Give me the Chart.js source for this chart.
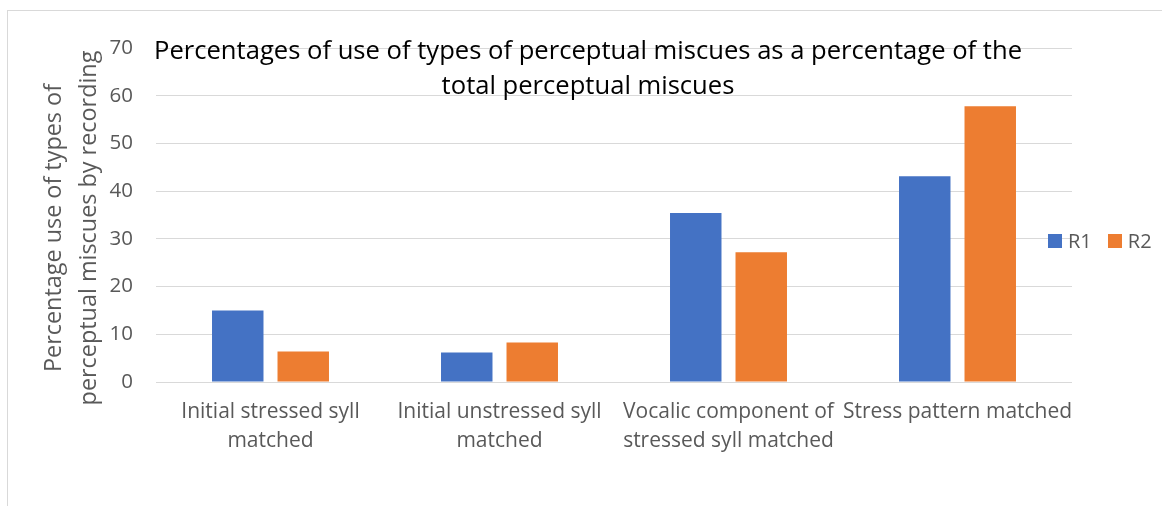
<!DOCTYPE html>
<html>
<head>
<meta charset="utf-8">
<script src="https://cdn.jsdelivr.net/npm/chart.js@4.4.1/dist/chart.umd.min.js"></script>
<style>
  html, body { margin: 0; padding: 0; background: #fff; }
  #wrap { position: relative; width: 1162px; height: 506px; overflow: hidden; font-family: "Open Sans", sans-serif; }
  #frame { position: absolute; left: 7px; top: 10px; width: 1200px; height: 600px; border: 1px solid #d9d9d9; box-sizing: border-box; }
  canvas { position: absolute; left: 0; top: 0; }
  #title { position: absolute; left: 88px; width: 1000px; top: 32px; text-align: center; font-size: 25.6px; line-height: 35px; color: #000; pointer-events: none; white-space: nowrap; }
  #ytitle { position: absolute; left: -130px; top: 193px; width: 400px; height: 70px; transform: rotate(-90deg); text-align: center; font-size: 23.4px; line-height: 35px; color: #595959; white-space: nowrap; }
  #legend { position: absolute; left: 1048px; top: 227px; font-size: 20px; color: #595959; display: flex; align-items: center; }
  #legend .item { display: flex; align-items: center; margin-right: 16px; }
  #legend .sw { width: 14px; height: 14px; margin-right: 6px; }
</style>
</head>
<body>
<div id="wrap">
  <div id="frame"></div>
  <canvas id="c" width="1162" height="506"></canvas>
  <div id="title"></div>
  <div id="ytitle"></div>
  <div id="legend"></div>
</div>
<script>
const chartTitle = ["Percentages of use of types of perceptual miscues as a percentage of the", "total perceptual miscues"];
const yAxisTitle = ["Percentage use of types of", "perceptual miscues by recording"];
const categories = [
  ["Initial stressed syll", "matched"],
  ["Initial unstressed syll", "matched"],
  ["Vocalic component of", "stressed syll matched"],
  ["Stress pattern matched"]
];
const seriesNames = ["R1", "R2"];
const r1Values = [15.0, 6.2, 35.4, 43.1];
const r2Values = [6.4, 8.3, 27.2, 57.8];
const seriesColors = ["#4472C4", "#ED7D31"];
const yTicks = [0, 10, 20, 30, 40, 50, 60, 70];

document.getElementById('title').innerHTML = chartTitle.join('<br>');
document.getElementById('ytitle').innerHTML = yAxisTitle.join('<br>');
const legendEl = document.getElementById('legend');
seriesNames.forEach((n, i) => {
  const it = document.createElement('div');
  it.className = 'item';
  const sw = document.createElement('div');
  sw.className = 'sw';
  sw.style.background = seriesColors[i];
  const tx = document.createElement('span');
  tx.textContent = n;
  it.appendChild(sw); it.appendChild(tx);
  legendEl.appendChild(it);
});

new Chart(document.getElementById('c'), {
  type: 'bar',
  data: {
    labels: categories,
    datasets: [
      { label: seriesNames[0], data: r1Values, backgroundColor: seriesColors[0], categoryPercentage: 0.572, barPercentage: 0.786 },
      { label: seriesNames[1], data: r2Values, backgroundColor: seriesColors[1], categoryPercentage: 0.572, barPercentage: 0.786 }
    ]
  },
  options: {
    responsive: false,
    animation: false,
    layout: { padding: { left: 0, right: 90, top: 48, bottom: 0 } },
    plugins: { legend: { display: false }, title: { display: false }, tooltip: { enabled: false } },
    scales: {
      x: {
        grid: { display: false, drawTicks: false },
        border: { display: false },
        ticks: { color: '#595959', font: { family: 'Open Sans', size: 21, lineHeight: 1.35 }, padding: 16, maxRotation: 0, autoSkip: false },
        afterFit: s => { s.height = 124; }
      },
      y: {
        min: 0, max: 70,
        afterBuildTicks: s => { s.ticks = yTicks.map(v => ({ value: v })); },
        grid: { color: '#d9d9d9', lineWidth: 1, drawTicks: false },
        border: { display: false },
        ticks: { color: '#595959', font: { family: 'Open Sans', size: 20.5 }, padding: 23 },
        afterFit: s => { s.width = 156; }
      }
    }
  }
});
</script>
</body>
</html>
